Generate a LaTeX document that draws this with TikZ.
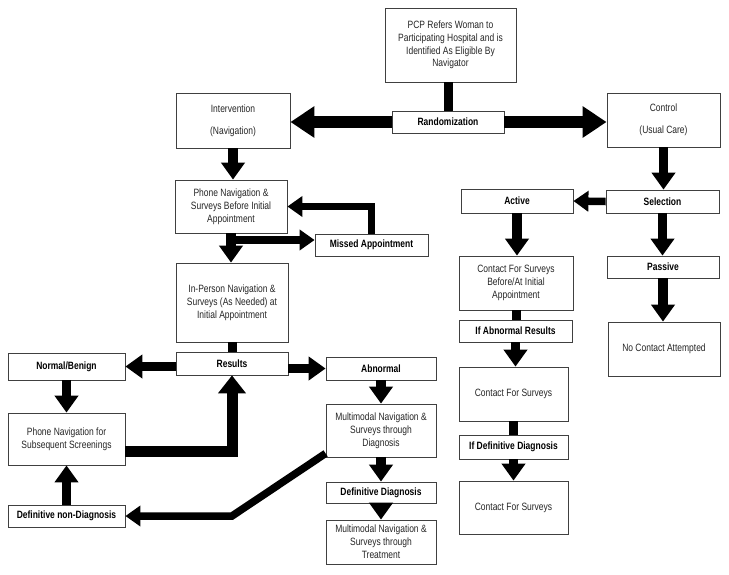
\documentclass[tikz,border=0pt]{standalone}
\usepackage{fontspec}
\setmainfont{Liberation Sans}[FakeStretch=0.8]
\usetikzlibrary{arrows.meta}

\tikzset{
  box/.style={draw=black!75,line width=0.8pt,fill=white,inner sep=1pt,align=center,
    font=\fontsize{10.6}{12.8}\selectfont,text=black!85},
  lbl/.style={box,font=\fontsize{10.6}{12.8}\selectfont\bfseries,text=black},
  bigarrow/.style={line width=12pt,-{Triangle[width=30pt,length=24pt]}},
  blkarrow/.style={line width=9.5pt,-{Triangle[width=23pt,length=17pt]}},
  thinarrow/.style={line width=7.5pt,-{Triangle[width=20pt,length=15pt]}},
  stem/.style={line width=9pt}
}

\begin{document}
\begin{tikzpicture}[x=1pt,y=-1pt]
\useasboundingbox (0,0) rectangle (729,574);
% top and randomization
\node[box,minimum width=131pt,minimum height=74pt] (pcp) at (450.5,45)
  {PCP Refers Woman to\\Participating Hospital and is\\Identified As Eligible By\\Navigator};
\node[lbl,minimum width=112pt,minimum height=22pt] (rand) at (448,122) {Randomization};
\node[box,minimum width=114pt,minimum height=55pt] (interv) at (233,120.5) {Intervention\\[9pt](Navigation)};
\node[box,minimum width=113pt,minimum height=54pt] (ctrl) at (663.5,120) {Control\\[9pt](Usual Care)};

% navigation arm
\node[box,minimum width=112pt,minimum height=53pt] (phone) at (231,206.5)
  {Phone Navigation \&\\Surveys Before Initial\\Appointment};
\node[lbl,minimum width=113pt,minimum height=22pt] (missed) at (371.5,245) {Missed Appointment};
\node[box,minimum width=112pt,minimum height=79pt] (inperson) at (232,302.5)
  {In-Person Navigation \&\\Surveys (As Needed) at\\Initial Appointment};
\node[lbl,minimum width=112pt,minimum height=23pt] (results) at (232,363.5) {Results};
\node[lbl,minimum width=117pt,minimum height=27pt] (normal) at (66.5,366.5) {Normal/Benign};
\node[lbl,minimum width=110pt,minimum height=23pt] (abnormal) at (381,368.5) {Abnormal};
\node[box,minimum width=117pt,minimum height=52pt] (subseq) at (66.5,439)
  {Phone Navigation for\\Subsequent Screenings};
\node[lbl,minimum width=117pt,minimum height=22pt] (nondiag) at (66.5,516) {Definitive non-Diagnosis};
\node[box,minimum width=110pt,minimum height=53pt] (multidiag) at (381,430.5)
  {Multimodal Navigation \&\\Surveys through\\Diagnosis};
\node[lbl,minimum width=110pt,minimum height=21pt] (defdiag) at (381,492.5) {Definitive Diagnosis};
\node[box,minimum width=110pt,minimum height=44pt] (multitreat) at (381,542)
  {Multimodal Navigation \&\\Surveys through\\Treatment};

% usual care arm
\node[lbl,minimum width=113pt,minimum height=23pt] (select) at (662.5,201.5) {Selection};
\node[lbl,minimum width=112pt,minimum height=24pt] (active) at (517,201) {Active};
\node[lbl,minimum width=112pt,minimum height=22pt] (passive) at (663,267) {Passive};
\node[box,minimum width=112pt,minimum height=54pt] (nocontact) at (664,349) {No Contact Attempted};
\node[box,minimum width=114pt,minimum height=54pt] (contacta) at (516,283)
  {Contact For Surveys\\Before/At Initial\\Appointment};
\node[lbl,minimum width=113pt,minimum height=22pt] (ifabn) at (515.5,331) {If Abnormal Results};
\node[box,minimum width=109pt,minimum height=54pt] (contactb) at (513.5,394) {Contact For Surveys};
\node[lbl,minimum width=109pt,minimum height=24pt] (ifdef) at (513.5,447) {If Definitive Diagnosis};
\node[box,minimum width=109pt,minimum height=53pt] (contactc) at (513.5,507.5) {Contact For Surveys};

\coordinate (missin) at ([yshift=5pt]missed.west);
\coordinate (subout) at ([yshift=-12pt]subseq.east);
\coordinate (diagout) at ([yshift=4pt]multidiag.south west);

% connectors
\draw[stem] (rand.north) -- (rand.north |- pcp.south);
\draw[bigarrow] (rand.west) -- (rand.west -| interv.east);
\draw[bigarrow] (rand.east) -- (rand.east -| ctrl.west);
\draw[blkarrow] (interv.south) -- (interv.south |- phone.north);
\draw[blkarrow] (phone.south) -- (phone.south |- inperson.north);
\draw[thinarrow] (phone.south |- missin) -- (missin);
\draw[thinarrow] (missed.north) |- (phone.east);
\draw[stem] (inperson.south) -- (results.north);
\draw[blkarrow] (results.west |- normal.east) -- (normal.east);
\draw[blkarrow] (results.east |- abnormal.west) -- (abnormal.west);
\draw[blkarrow] (normal.south) -- (subseq.north);
\draw[line width=11pt,-{Triangle[width=27pt,length=18pt]}] (subout) -| (results.south);
\draw[blkarrow] (nondiag.north) -- (subseq.south);
\draw[thinarrow] (diagout) -- (results.south |- nondiag.east) -- (nondiag.east);
\draw[blkarrow] (abnormal.south) -- (multidiag.north);
\draw[blkarrow] (multidiag.south) -- (defdiag.north);
\draw[blkarrow] (defdiag.south) -- (multitreat.north);
\draw[blkarrow] (ctrl.south) -- (ctrl.south |- select.north);
\draw[thinarrow] (select.west) -- (active.east);
\draw[blkarrow] (select.south) -- (select.south |- passive.north);
\draw[blkarrow] (passive.south) -- (passive.south |- nocontact.north);
\draw[blkarrow] (active.south) -- (active.south |- contacta.north);
\draw[stem] (contacta.south) -- (contacta.south |- ifabn.north);
\draw[blkarrow] (ifabn.south) -- (ifabn.south |- contactb.north);
\draw[stem] (contactb.south) -- (ifdef.north);
\draw[blkarrow] (ifdef.south) -- (contactc.north);
\end{tikzpicture}
\end{document}
